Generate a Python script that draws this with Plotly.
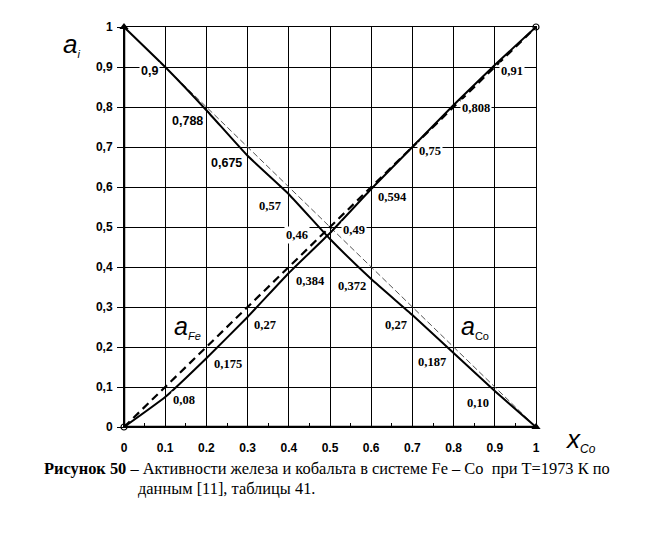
import plotly.graph_objects as go

# ---- data ----
x_co = [0, 0.1, 0.2, 0.3, 0.4, 0.5, 0.6, 0.7, 0.8, 0.9, 1.0]
a_fe_curve = [1.0, 0.9, 0.792, 0.678, 0.582, 0.47, 0.37, 0.28, 0.185, 0.09, 0.0]
a_co_curve = [0.0, 0.075, 0.172, 0.275, 0.385, 0.485, 0.595, 0.70, 0.805, 0.905, 1.0]
ideal_x = [0, 1]
ideal_dec = [1, 0]
ideal_inc = [0, 1]

x_tick_vals = [0, 0.1, 0.2, 0.3, 0.4, 0.5, 0.6, 0.7, 0.8, 0.9, 1]
x_tick_text = ["0", "0.1", "0.2", "0.3", "0.4", "0.5", "0.6", "0.7", "0.8", "0.9", "1"]
y_tick_vals = [0, 0.1, 0.2, 0.3, 0.4, 0.5, 0.6, 0.7, 0.8, 0.9, 1]
y_tick_text = ["0", "0,1", "0,2", "0,3", "0,4", "0,5", "0,6", "0,7", "0,8", "0,9", "1"]

value_labels = ["0,9", "0,788", "0,675", "0,57", "0,46", "0,49", "0,384", "0,372",
                "0,594", "0,75", "0,808", "0,91", "0,27", "0,175", "0,08",
                "0,27", "0,187", "0,10"]
label_pos = [(0.061, 0.89), (0.153, 0.766), (0.248, 0.659), (0.354, 0.552),
             (0.42, 0.479), (0.558, 0.493), (0.452, 0.366), (0.553, 0.353),
             (0.651, 0.576), (0.743, 0.689), (0.854, 0.797), (0.942, 0.89),
             (0.342, 0.256), (0.252, 0.157), (0.146, 0.067),
             (0.660, 0.256), (0.748, 0.162), (0.859, 0.06)]
sans_labels = {0, 1, 2}

fig = go.Figure()
fig.add_trace(go.Scatter(x=ideal_x, y=ideal_dec, mode="lines",
                         line=dict(color="#555555", width=1, dash="6px,3px"),
                         hoverinfo="skip", showlegend=False))
fig.add_trace(go.Scatter(x=ideal_x, y=ideal_inc, mode="lines",
                         line=dict(color="black", width=2.2, dash="8px,5px"),
                         hoverinfo="skip", showlegend=False))
fig.add_trace(go.Scatter(x=x_co, y=a_fe_curve, mode="lines",
                         line=dict(color="black", width=2, shape="spline", smoothing=0.4),
                         showlegend=False))
fig.add_trace(go.Scatter(x=x_co, y=a_co_curve, mode="lines",
                         line=dict(color="black", width=2, shape="spline", smoothing=0.4),
                         showlegend=False))
fig.add_trace(go.Scatter(x=[x_co[0], x_co[-1]], y=[a_fe_curve[0], a_fe_curve[-1]], mode="markers",
                         marker=dict(symbol="triangle-up", size=8, color="black"),
                         showlegend=False, hoverinfo="skip", cliponaxis=False))
fig.add_trace(go.Scatter(x=[x_co[0], x_co[-1]], y=[a_co_curve[0], a_co_curve[-1]], mode="markers",
                         marker=dict(symbol="circle-open", size=6, color="black", line=dict(width=1.2)),
                         showlegend=False, hoverinfo="skip", cliponaxis=False))

annotations = []
for i, (txt, (px, py)) in enumerate(zip(value_labels, label_pos)):
    fam = "Liberation Sans" if i in sans_labels else "Liberation Serif"
    annotations.append(dict(x=px, y=py, xref="x", yref="y", text="<b>" + txt + "</b>",
                            showarrow=False, bgcolor="white", borderpad=1,
                            font=dict(family=fam, size=12.5, color="black")))

italic_font = dict(family="Liberation Sans", size=26, color="black")
annotations += [
    dict(x=0.153, y=0.249, xref="x", yref="y", showarrow=False,
         text="<i>a</i><sub><span style='font-size:11px'><i>Fe</i></span></sub>",
         font=dict(family="Liberation Sans", size=25, color="black")),
    dict(x=0.852, y=0.249, xref="x", yref="y", showarrow=False,
         text="<i>a</i><sub><span style='font-size:11px'>Co</span></sub>",
         font=dict(family="Liberation Sans", size=25, color="black")),
    dict(x=-0.154, y=1.0, xref="paper", yref="paper", showarrow=False,
         text="<i>a</i><sub><span style='font-size:11px'><i>i</i></span></sub>",
         font=italic_font),
    dict(x=1.15, y=-0.077, xref="paper", yref="paper", showarrow=False,
         text="<i>x</i><sub><span style='font-size:12px'><i>Co</i></span></sub>",
         font=italic_font),
    dict(x=-0.199, y=-0.132, xref="paper", yref="paper", xanchor="left", showarrow=False,
         text="<b>Рисунок 50</b> – Активности железа и кобальта в системе Fe – Co  при Т=1973 К по",
         font=dict(family="Liberation Serif", size=16.4, color="black")),
    dict(x=0.029, y=-0.182, xref="paper", yref="paper", xanchor="left", showarrow=False,
         text="данным [11], таблицы 41.",
         font=dict(family="Liberation Serif", size=16.4, color="black")),
]

shapes = [
    dict(type="line", xref="x", yref="y", x0=0, x1=0, y0=0, y1=1,
         line=dict(color="black", width=2.5), layer="above"),
    dict(type="line", xref="x", yref="y", x0=0, x1=1, y0=0, y1=0,
         line=dict(color="black", width=2.5), layer="above"),
]

fig.update_layout(
    width=646, height=525,
    margin=dict(l=116, r=118, t=17, b=106),
    paper_bgcolor="white", plot_bgcolor="white",
    annotations=annotations, shapes=shapes,
    xaxis=dict(range=[0, 1], tickvals=x_tick_vals, ticktext=x_tick_text,
               showgrid=True, gridcolor="black", gridwidth=1, zeroline=False,
               showline=True, linecolor="black", linewidth=1, mirror=True,
               ticks="outside", ticklen=10, tickcolor="rgba(0,0,0,0)",
               minor=dict(ticks="inside", dtick=0.05, ticklen=4, tickcolor="black", showgrid=False),
               tickfont=dict(family="Liberation Sans", size=12, color="black", weight="bold")),
    yaxis=dict(range=[0, 1], tickvals=y_tick_vals, ticktext=y_tick_text,
               showgrid=True, gridcolor="black", gridwidth=1, zeroline=False,
               showline=True, linecolor="black", linewidth=1, mirror=True,
               ticks="outside", ticklen=6, tickcolor="black", ticklabelstandoff=2,
               tickfont=dict(family="Liberation Sans", size=12, color="black", weight="bold")),
)

fig.write_html("out.html")
